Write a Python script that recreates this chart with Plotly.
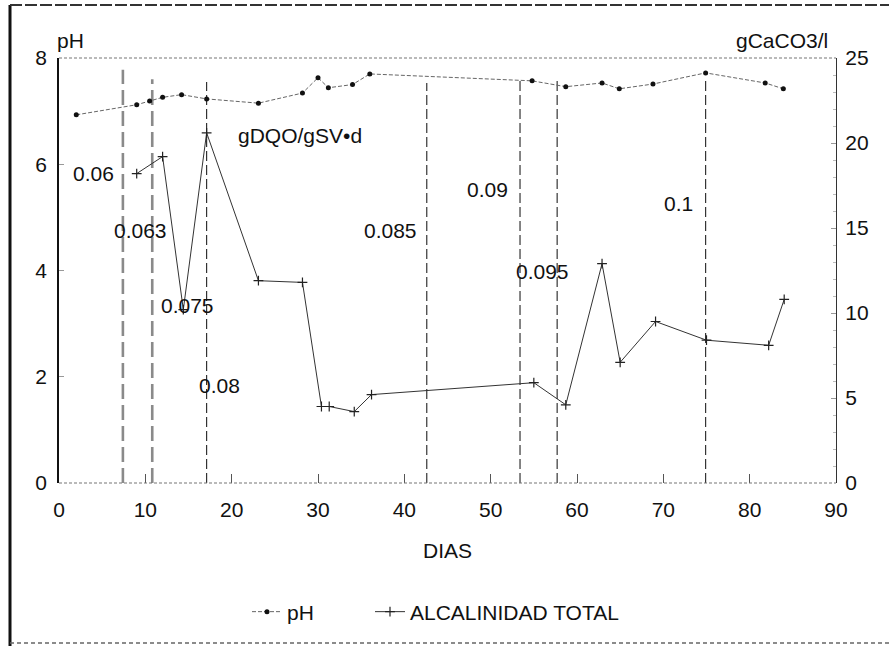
import plotly.graph_objects as go

# ---------------- data ----------------
ph_days = [2, 9, 10.5, 12, 14.2, 17.1, 23.1, 28.2, 30.0, 31.2, 34.0, 36.0,
           54.8, 58.7, 62.9, 64.9, 68.8, 74.9, 81.8, 83.9]
ph_values = [6.93, 7.12, 7.19, 7.26, 7.31, 7.23, 7.15, 7.34, 7.63, 7.44, 7.50, 7.70,
             7.57, 7.46, 7.53, 7.42, 7.51, 7.72, 7.53, 7.42]

alk_days = [9.0, 12.0, 14.4, 17.1, 23.1, 28.2, 30.4, 31.3, 34.2, 36.2,
            55.0, 58.7, 62.9, 65.0, 69.1, 75.0, 82.2, 84.0]
alk_values = [18.2, 19.2, 10.2, 20.6, 11.9, 11.8, 4.5, 4.5, 4.2, 5.2,
              5.9, 4.6, 12.9, 7.1, 9.5, 8.4, 8.1, 10.8]

# organic loading changes (gDQO/gSV·d)
change_days = [7.4, 10.8, 17.1, 42.6, 53.4, 57.7, 74.9]
change_tops = [7.78, 7.6, 7.55, 7.53, 7.59, 7.59, 7.59]

load_labels = ["0.06", "0.063", "0.075", "0.08", "0.085", "0.09", "0.095", "0.1"]
load_label_days = [4.0, 9.4, 14.9, 18.6, 38.4, 49.6, 56.0, 71.7]
load_label_ph = [5.83, 4.75, 3.34, 1.84, 4.75, 5.52, 3.99, 5.26]

x_ticks = [0, 10, 20, 30, 40, 50, 60, 70, 80, 90]
ph_ticks = [0, 2, 4, 6, 8]
alk_ticks = [0, 5, 10, 15, 20, 25]

FONT = "Liberation Sans, Arial, sans-serif"
FS = 21

fig = go.Figure()

# vertical dashed lines of loading changes
for i, (d, top) in enumerate(zip(change_days, change_tops)):
    thick = i < 2
    fig.add_trace(go.Scatter(
        x=[d, d], y=[0, top], mode="lines", showlegend=False, hoverinfo="skip",
        line=dict(color="#8a8a8a" if thick else "#222222",
                  width=2.6 if thick else 1.1,
                  dash="15px,6px" if thick else "10px,4px")))

fig.add_trace(go.Scatter(
    x=ph_days, y=ph_values, name="pH", mode="lines+markers", legend="legend",
    line=dict(color="#666666", width=1, dash="4px,2px"),
    marker=dict(symbol="circle", size=5, color="#111111")))

fig.add_trace(go.Scatter(
    x=alk_days, y=alk_values, name="ALCALINIDAD TOTAL", mode="lines+markers",
    yaxis="y2", legend="legend2",
    line=dict(color="#333333", width=1),
    marker=dict(symbol="cross-thin", size=7, line=dict(color="#222222", width=1.2))))

# loading labels
for t, d, p in zip(load_labels, load_label_days, load_label_ph):
    fig.add_annotation(x=d, y=p, text=t, showarrow=False, xref="x", yref="y",
                       font=dict(family=FONT, size=FS, color="#111111"))

W, H = 889, 646
L, R, T, B = 59, 836, 58, 483


def px(xp):
    return (xp - L) / (R - L)


def py(yp):
    return (B - yp) / (B - T)


annotations_paper = [
    dict(text="gDQO/gSV•d", x=300, y=135),
    dict(text="pH", x=70, y=40),
    dict(text="gCaCO3/l", x=782, y=40),
    dict(text="DIAS", x=448, y=550),
]
for a in annotations_paper:
    fig.add_annotation(x=px(a["x"]), y=py(a["y"]),
                       xref="paper", yref="paper", text=a["text"], showarrow=False,
                       xanchor="center", yanchor="middle",
                       font=dict(family=FONT, size=FS, color="#111111"))

# dotted top and bottom frame lines of the plot area
for yv in [0, 1]:
    fig.add_shape(type="line", xref="paper", yref="paper", x0=0, x1=1, y0=yv, y1=yv,
                  line=dict(color="#777777", width=1.2, dash="3px,2px"))

# outer frame
fig.add_shape(type="line", xref="paper", yref="paper",
              x0=px(10), x1=px(10), y0=py(5), y1=py(646),
              line=dict(color="#111111", width=3))
fig.add_shape(type="line", xref="paper", yref="paper",
              x0=px(10), x1=px(889), y0=py(5), y1=py(5),
              line=dict(color="#333333", width=2, dash="12px,3px"))
fig.add_shape(type="line", xref="paper", yref="paper",
              x0=px(10), x1=px(889), y0=py(643), y1=py(643),
              line=dict(color="#666666", width=1.5, dash="4px,3px"))

legend_style = dict(orientation="h", xanchor="left", yanchor="middle",
                    font=dict(family=FONT, size=FS, color="#111111"),
                    bgcolor="rgba(0,0,0,0)")

fig.update_layout(
    width=W, height=H,
    margin=dict(l=L, r=W - R, t=T, b=H - B, autoexpand=False),
    paper_bgcolor="white", plot_bgcolor="white",
    font=dict(family=FONT, size=FS, color="#111111"),
    xaxis=dict(range=[0, 90], tickvals=x_ticks, showgrid=False, zeroline=False,
               showline=False, ticks="inside", ticklen=9, tickcolor="#555555",
               tickwidth=1, ticklabelstandoff=12,
               tickfont=dict(family=FONT, size=FS, color="#111111")),
    yaxis=dict(range=[0, 8], tickvals=ph_ticks, showgrid=False, zeroline=False,
               showline=True, linecolor="#111111", linewidth=1.5,
               ticks="inside", ticklen=5, tickcolor="#999999",
               ticklabelstandoff=6,
               tickfont=dict(family=FONT, size=FS, color="#111111")),
    yaxis2=dict(range=[0, 25], tickvals=alk_ticks, overlaying="y", side="right",
                showgrid=False, zeroline=False, showline=True, linecolor="#333333",
                linewidth=1.2, ticks="inside", ticklen=5, tickcolor="#999999",
                ticklabelstandoff=4,
                minor=dict(ticks="inside", ticklen=3, dtick=1, tickcolor="#bbbbbb"),
                tickfont=dict(family=FONT, size=FS, color="#111111")),
    legend=dict(x=px(247), y=py(612), **legend_style),
    legend2=dict(x=px(370), y=py(612), **legend_style),
)

fig.write_html("out.html")
